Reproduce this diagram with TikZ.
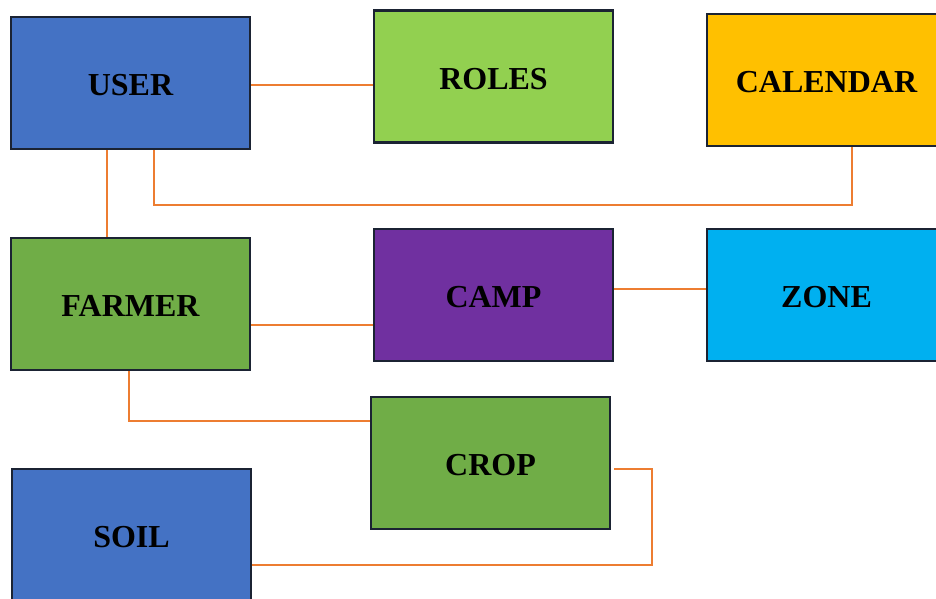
\documentclass[tikz,border=0pt]{standalone}
\usepackage{fontspec}
\setmainfont{Liberation Serif}
\definecolor{boxblue}{HTML}{4472C4}
\definecolor{boxlime}{HTML}{92D050}
\definecolor{boxgold}{HTML}{FFC000}
\definecolor{boxgreen}{HTML}{70AD47}
\definecolor{boxpurple}{HTML}{7030A0}
\definecolor{boxcyan}{HTML}{00B0F0}
\definecolor{linkorange}{HTML}{ED7D31}
\definecolor{edgedark}{HTML}{1B2333}
\begin{document}
\begin{tikzpicture}[x=1pt,y=-1pt,
  entity/.style={draw=edgedark, line width=2.2pt, minimum width=239pt, minimum height=132pt,
    inner sep=0pt, text height=25.5pt, text depth=0pt,
    font=\fontsize{32}{38}\selectfont\bfseries, text=black},
  link/.style={draw=linkorange, line width=2.8pt}]
  \useasboundingbox (0,0) rectangle (936,599);

  % entity boxes
  \node[entity, fill=boxblue]   (user)     at (130.5,83)  {USER};
  \node[entity, fill=boxlime]   (roles)    at (493.5,76.5){ROLES};
  \node[entity, fill=boxgold]   (calendar) at (826.5,80)  {CALENDAR};
  \node[entity, fill=boxgreen]  (farmer)   at (130.5,304) {FARMER};
  \node[entity, fill=boxpurple] (camp)     at (493.5,295) {CAMP};
  \node[entity, fill=boxcyan]   (zone)     at (826.5,295) {ZONE};
  \node[entity, fill=boxgreen]  (crop)     at (490.5,463) {CROP};
  \node[entity, fill=boxblue]   (soil)     at (131.5,535) {SOIL};

  % guide rows and columns for the connectors
  \coordinate (r85)  at (0,85);
  \coordinate (r205) at (0,205);
  \coordinate (r289) at (0,289);
  \coordinate (r325) at (0,325);
  \coordinate (r421) at (0,421);
  \coordinate (r469) at (0,469);
  \coordinate (r565) at (0,565);
  \coordinate (c107) at (107,0);
  \coordinate (c129) at (129,0);
  \coordinate (c154) at (154,0);
  \coordinate (c652) at (652,0);
  \coordinate (c852) at (852,0);

  % connectors
  \draw[link] (user.east |- r85) -- (roles.west |- r85);
  \draw[link] (user.south -| c107) -- (farmer.north -| c107);
  \draw[link] (user.south -| c154) -- (c154 |- r205) -- (c852 |- r205) -- (calendar.south -| c852);
  \draw[link] (farmer.east |- r325) -- (camp.west |- r325);
  \draw[link] (camp.east |- r289) -- (zone.west |- r289);
  \draw[link] (farmer.south -| c129) |- (crop.west |- r421);
  \draw[link] ([xshift=3pt]crop.east |- r469) -- (c652 |- r469) -- (c652 |- r565) -- (soil.east |- r565);
\end{tikzpicture}
\end{document}
